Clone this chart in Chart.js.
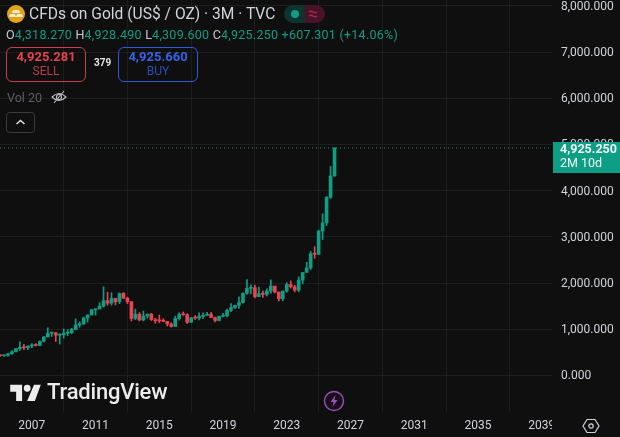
<!DOCTYPE html>
<html>
<head>
<meta charset="utf-8">
<title>CFDs on Gold</title>
<script src="https://cdn.jsdelivr.net/npm/chart.js@4"></script>
<style>
    html, body { margin: 0; padding: 0; background: #0f0f0f; }
    #wrap { position: relative; width: 620px; height: 437px; overflow: hidden; font-family: Roboto, sans-serif; }
    #grafica { position: absolute; left: 0; top: 0; }
    .abs { position: absolute; white-space: nowrap; }
    .box { position: absolute; top: 47px; width: 78px; height: 33px; border: 1px solid; border-radius: 6px; text-align: center; font-size: 12px; line-height: 13px; box-sizing: content-box; }
    .box b { display: block; font-size: 13px; line-height: 17px; font-weight: 700; }
    #sell { left: 6px; border-color: #c9404a; color: #e5434d; }
    #sell span { color: #b8404a; }
    #buy { left: 118px; border-color: #2f5bd8; color: #3563e9; }
    #buy span { color: #2a4fb8; }
    #ohlc { left: 6px; top: 27px; font-size: 12.5px; color: #0e9e85; letter-spacing: .25px; }
    #ohlc i { font-style: normal; color: #c8cad0; }
    #tag { left: 553px; top: 142px; width: 67px; height: 31px; background: #0d9e85; color: #f2f5f5; font-size: 12.5px; line-height: 14px; padding: 0 0 0 7px; box-sizing: border-box; }
    #tag b { font-weight: 700; display: block; }
</style>
</head>
<body>
<div id="wrap">
    <canvas id="grafica" width="620" height="437"></canvas>

    <svg class="abs" style="left:7px;top:5px" width="18" height="18" viewBox="0 0 18 18">
        <circle cx="9" cy="9" r="9" fill="#e0a31a"/>
        <path d="M6 5h6l1 3H5zM3 9h5l1 3H2zM10 9h5l1 3H9z" fill="#fbeec8"/>
    </svg>
    <div class="abs" style="left:29px;top:5px;font-size:15.6px;line-height:18px;color:#d1d4dc">CFDs on Gold (US$ / OZ) · 3M · TVC</div>
    <svg class="abs" style="left:284px;top:5px" width="41" height="18" viewBox="0 0 41 18">
        <path d="M9 0h12v18H9a9 9 0 0 1 0-18z" fill="#11332d"/>
        <path d="M21 0h11a9 9 0 0 1 0 18H21z" fill="#47132a"/>
        <circle cx="11" cy="9" r="4" fill="#0d9e85"/>
        <path d="M25 7q2-1.500 4 0t4 0M25 11q2-1.500 4 0t4 0" fill="none" stroke="#b0244f" stroke-width="1.300"/>
    </svg>
    <div class="abs" id="ohlc"><i>O</i>4,318.270 <i>H</i>4,928.490 <i>L</i>4,309.600 <i>C</i>4,925.250 +607.301 (+14.06%)</div>

    <div class="box" id="sell"><b>4,925.281</b><span>SELL</span></div>
    <div class="abs" style="left:94px;top:57px;font-size:10px;font-weight:700;color:#e6e6e6">379</div>
    <div class="box" id="buy"><b>4,925.660</b><span>BUY</span></div>

    <div class="abs" style="left:7px;top:90px;font-size:12.5px;color:#5c5e63">Vol 20</div>
    <svg class="abs" style="left:51px;top:89px" width="16" height="16" viewBox="0 0 16 16" fill="none" stroke="#c0c2c8" stroke-width="1.100">
        <path d="M1 8q7-7 14 0q-7 7-14 0z"/><circle cx="8" cy="8" r="2.500"/><path d="M3 14L13 2"/>
    </svg>
    <svg class="abs" style="left:6px;top:112px" width="29" height="21" viewBox="0 0 29 21" fill="none">
        <rect x=".5" y=".5" width="28" height="20" rx="3" stroke="#3a3b3e"/>
        <path d="M10.500 12l4-3.500 4 3.500" stroke="#e0e0e0" stroke-width="1.500"/>
    </svg>

    <div class="abs" id="tag"><b>4,925.250</b>2M 10d</div>

    <svg class="abs" style="left:10px;top:384px" width="31" height="17" viewBox="0 0 36 20">
        <path d="M14 20H7V9H0V1h14zM29 20h-9L28 1h8z" fill="#ececec"/>
        <circle cx="20" cy="5" r="4" fill="#ececec"/>
    </svg>
    <div class="abs" style="left:47px;top:379px;font-size:22px;line-height:26px;font-weight:500;color:#ececec;letter-spacing:-.2px">TradingView</div>

    <svg class="abs" style="left:323px;top:390px" width="22" height="22" viewBox="0 0 22 22">
        <circle cx="11" cy="11" r="9.500" fill="#17101b" stroke="#9c4fb5" stroke-width="1.400"/>
        <path d="M12.500 5L7.500 12h3l-1 5 5-7h-3z" fill="#9c4fb5"/>
    </svg>
    <svg class="abs" style="left:582px;top:417px" width="18" height="18" viewBox="0 0 18 18" fill="none" stroke="#d1d4dc" stroke-width="1.200">
        <path d="M5 2.500h8L17 9l-4 6.500H5L1 9z"/><circle cx="9" cy="9" r="2.200"/>
    </svg>
</div>

<script>
// ================= DATA =================
const quarterStarts = [
    2005, 2005.25, 2005.5, 2005.75, 2006, 2006.25, 2006.5, 2006.75, 2007, 2007.25, 2007.5, 2007.75,
    2008, 2008.25, 2008.5, 2008.75, 2009, 2009.25, 2009.5, 2009.75, 2010, 2010.25, 2010.5, 2010.75,
    2011, 2011.25, 2011.5, 2011.75, 2012, 2012.25, 2012.5, 2012.75, 2013, 2013.25, 2013.5, 2013.75,
    2014, 2014.25, 2014.5, 2014.75, 2015, 2015.25, 2015.5, 2015.75, 2016, 2016.25, 2016.5, 2016.75,
    2017, 2017.25, 2017.5, 2017.75, 2018, 2018.25, 2018.5, 2018.75, 2019, 2019.25, 2019.5, 2019.75,
    2020, 2020.25, 2020.5, 2020.75, 2021, 2021.25, 2021.5, 2021.75, 2022, 2022.25, 2022.5, 2022.75,
    2023, 2023.25, 2023.5, 2023.75, 2024, 2024.25, 2024.5, 2024.75, 2025, 2025.25, 2025.5, 2025.75,
    2026
];
const opens = [
    438, 427, 436, 473, 513, 582, 614, 599, 636, 663, 650, 743,
    834, 916, 926, 872, 880, 916, 927, 995, 1096, 1115, 1244, 1307,
    1421, 1439, 1500, 1620, 1566, 1669, 1597, 1776, 1675, 1595, 1235, 1327,
    1202, 1284, 1327, 1210, 1184, 1183, 1172, 1115, 1060, 1234, 1322, 1315,
    1152, 1249, 1242, 1280, 1303, 1325, 1253, 1192, 1282, 1292, 1409, 1472,
    1517, 1577, 1780, 1886, 1898, 1707, 1770, 1757, 1829, 1937, 1807, 1660,
    1824, 1969, 1919, 1849, 2063, 2230, 2327, 2635, 2624, 3124, 3303, 3858,
    4318.27
];
const highs = [
    447, 446, 476, 540, 584, 730, 676, 640, 690, 691, 745, 845,
    1033, 942, 930, 905, 1007, 991, 1024, 1226, 1162, 1265, 1315, 1431,
    1445, 1577, 1920, 1803, 1791, 1675, 1787, 1796, 1696, 1605, 1434, 1361,
    1392, 1332, 1345, 1238, 1307, 1232, 1170, 1141, 1284, 1362, 1375, 1337,
    1261, 1295, 1357, 1358, 1365, 1365, 1266, 1287, 1346, 1439, 1557, 1525,
    1703, 1789, 2075, 1965, 1959, 1916, 1834, 1877, 2070, 1879, 1807, 1833,
    2010, 2048, 1953, 2135, 2222, 2450, 2685, 2790, 3148, 3500, 3872, 4524,
    4928.49
];
const lows = [
    411, 414, 418, 456, 513, 543, 560, 560, 602, 640, 642, 725,
    834, 845, 735, 681, 810, 865, 908, 990, 1044, 1106, 1157, 1313,
    1308, 1462, 1482, 1522, 1523, 1527, 1556, 1661, 1554, 1180, 1207, 1182,
    1182, 1240, 1190, 1131, 1142, 1162, 1072, 1046, 1060, 1200, 1302, 1124,
    1146, 1214, 1204, 1236, 1303, 1250, 1160, 1183, 1266, 1267, 1381, 1445,
    1451, 1566, 1757, 1765, 1677, 1705, 1690, 1721, 1780, 1785, 1614, 1616,
    1804, 1893, 1810, 1811, 1984, 2277, 2294, 2537, 2614, 2944, 3246, 3831,
    4309.6
];
const closes = [
    427, 436, 473, 513, 582, 614, 599, 636, 663, 650, 743, 834,
    916, 926, 872, 880, 916, 927, 995, 1096, 1115, 1244, 1307, 1421,
    1439, 1500, 1620, 1566, 1669, 1597, 1776, 1675, 1595, 1235, 1327, 1202,
    1284, 1327, 1210, 1184, 1183, 1172, 1115, 1060, 1234, 1322, 1315, 1152,
    1249, 1242, 1280, 1303, 1325, 1253, 1192, 1282, 1292, 1409, 1472, 1517,
    1577, 1780, 1886, 1898, 1707, 1770, 1757, 1829, 1937, 1807, 1660, 1824,
    1969, 1919, 1849, 2063, 2230, 2327, 2635, 2624, 3124, 3303, 3858, 4318,
    4925.25
];
const lastPrice = 4925.25;
const xTicks = [2007, 2011, 2015, 2019, 2023, 2027, 2031, 2035, 2039];
const yTicks = [0, 1000, 2000, 3000, 4000, 5000, 6000, 7000, 8000];

// ================= CONFIG =================
const verde = "#0d9e85";
const rojo = "#ea4350";
const colorGrid = "#1d1d1e";
const colorTexto = "#d1d4dc";
const fondo = "#0f0f0f";

const coloresVela = closes.map((c, i) => c >= opens[i] ? verde : rojo);

// The 2039 label gets cut off by the price panel, same as in the original
const cortePanel = {
    id: "cortePanel",
    afterDraw(chart) {
        const { ctx, chartArea } = chart;
        ctx.save();
        ctx.fillStyle = fondo;
        ctx.fillRect(chartArea.right, chartArea.bottom, chart.width - chartArea.right, chart.height - chartArea.bottom);
        ctx.restore();
    }
};

// ================= CHART =================
new Chart(document.getElementById("grafica").getContext("2d"), {
    type: "bar",
    data: {
        datasets: [
            {
                label: "Wicks",
                data: quarterStarts.map((x, i) => ({ x, y: [lows[i], highs[i]] })),
                backgroundColor: coloresVela,
                barThickness: 1,
                minBarLength: 1,
                grouped: false,
                order: 2
            },
            {
                label: "Bodies",
                data: quarterStarts.map((x, i) => ({ x, y: [opens[i], closes[i]] })),
                backgroundColor: coloresVela,
                barThickness: 3,
                minBarLength: 1,
                grouped: false,
                order: 1
            },
            {
                type: "line",
                label: "Last",
                data: [{ x: 2005, y: lastPrice }, { x: 2040, y: lastPrice }],
                borderColor: verde,
                borderWidth: 1,
                borderDash: [1, 3],
                pointRadius: 0,
                order: 0
            }
        ]
    },
    options: {
        responsive: false,
        animation: false,
        devicePixelRatio: 1,
        layout: { padding: 0 },
        plugins: { legend: { display: false }, tooltip: { enabled: false } },
        scales: {
            x: {
                type: "linear",
                min: 2005,
                max: 2039.65,
                offset: false,
                afterBuildTicks: (eje) => { eje.ticks = xTicks.map(value => ({ value })); },
                afterFit: (eje) => { eje.height = 25; eje.paddingLeft = 0; eje.paddingRight = 0; },
                grid: { color: colorGrid, drawTicks: false },
                border: { display: false },
                ticks: {
                    color: colorTexto,
                    font: { family: "Roboto", size: 12 },
                    padding: 7,
                    maxRotation: 0,
                    autoSkip: false,
                    callback: (value) => String(value)
                }
            },
            y: {
                position: "right",
                min: -790,
                max: 8127,
                afterBuildTicks: (eje) => { eje.ticks = yTicks.map(value => ({ value })); },
                afterFit: (eje) => { eje.width = 68; eje.paddingTop = 0; eje.paddingBottom = 0; },
                grid: { color: colorGrid, drawTicks: false },
                border: { display: false },
                ticks: {
                    color: colorTexto,
                    font: { family: "Roboto", size: 12 },
                    padding: 9,
                    labelOffset: 1,
                    callback: (value) => value.toLocaleString("en-US", { minimumFractionDigits: 3 })
                }
            }
        }
    },
    plugins: [cortePanel]
});
</script>
</body>
</html>
